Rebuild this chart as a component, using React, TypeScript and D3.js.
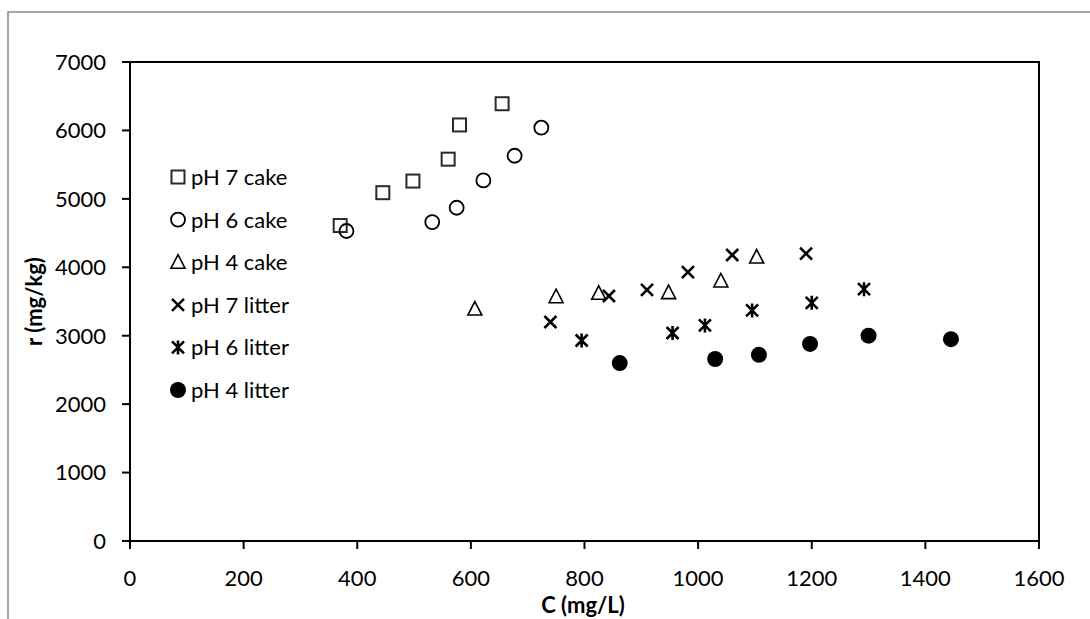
import React, { useEffect, useRef } from "react";
import * as d3 from "d3";

// Sorption data: concentration C (mg/L) vs. sorbed amount r (mg/kg)
const ph7CakeC = [370, 445, 498, 560, 580, 655];
const ph7CakeR = [4610, 5090, 5260, 5580, 6080, 6390];
const ph6CakeC = [381, 532, 575, 622, 677, 724];
const ph6CakeR = [4530, 4660, 4870, 5270, 5630, 6040];
const ph4CakeC = [607, 750, 825, 948, 1040, 1103];
const ph4CakeR = [3390, 3570, 3620, 3630, 3800, 4150];
const ph7LitterC = [740, 843, 910, 982, 1060, 1190];
const ph7LitterR = [3200, 3580, 3670, 3930, 4180, 4200];
const ph6LitterC = [795, 955, 1012, 1095, 1200, 1292];
const ph6LitterR = [2930, 3040, 3150, 3370, 3480, 3680];
const ph4LitterC = [862, 1030, 1107, 1197, 1300, 1445];
const ph4LitterR = [2600, 2660, 2720, 2880, 3000, 2950];

const seriesNames = ["pH 7 cake", "pH 6 cake", "pH 4 cake", "pH 7 litter", "pH 6 litter", "pH 4 litter"];
const seriesShapes = ["square", "circle", "triangle", "cross", "asterisk", "dot"];
const seriesC = [ph7CakeC, ph6CakeC, ph4CakeC, ph7LitterC, ph6LitterC, ph4LitterC];
const seriesR = [ph7CakeR, ph6CakeR, ph4CakeR, ph7LitterR, ph6LitterR, ph4LitterR];

const xTicks = [0, 200, 400, 600, 800, 1000, 1200, 1400, 1600];
const yTicks = [0, 1000, 2000, 3000, 4000, 5000, 6000, 7000];

const FONT = "Lato, 'Open Sans', sans-serif";
const FS = 22;

function drawMarker(g: any, shape: string, x: number, y: number) {
  const s = g.append("g").attr("transform", `translate(${x},${y})`);
  if (shape === "square") {
    s.append("rect").attr("x", -6.5).attr("y", -6.5).attr("width", 13).attr("height", 13)
      .attr("fill", "none").attr("stroke", "#2a2a2a").attr("stroke-width", 2);
  } else if (shape === "circle") {
    s.append("circle").attr("r", 7).attr("fill", "none").attr("stroke", "#000").attr("stroke-width", 1.8);
  } else if (shape === "triangle") {
    s.append("path").attr("d", "M0,-7.5L7,6L-7,6Z").attr("fill", "none").attr("stroke", "#000").attr("stroke-width", 1.6);
  } else if (shape === "cross") {
    s.append("path").attr("d", "M-6,-6L6,6M-6,6L6,-6").attr("fill", "none").attr("stroke", "#000").attr("stroke-width", 2.6);
  } else if (shape === "asterisk") {
    s.append("path").attr("d", "M-6,-6L6,6M-6,6L6,-6M0,-7L0,7").attr("fill", "none").attr("stroke", "#000").attr("stroke-width", 2.6);
  } else {
    s.append("circle").attr("r", 8).attr("fill", "#000");
  }
}

export default function App() {
  const ref = useRef<SVGSVGElement | null>(null);

  useEffect(() => {
    const svg = d3.select(ref.current);
    svg.selectAll("*").remove();

    const left = 130, right = 1039, top = 62, bottom = 541;
    const x = d3.scaleLinear().domain([0, 1600]).range([left, right]);
    const y = d3.scaleLinear().domain([0, 7000]).range([bottom, top]);

    // outer chart frame
    svg.append("path").attr("d", "M8,619L8,12L1090,12").attr("fill", "none").attr("stroke", "#8c8c8c").attr("stroke-width", 1.6);

    // plot frame
    svg.append("rect").attr("x", left).attr("y", top).attr("width", right - left).attr("height", bottom - top)
      .attr("fill", "none").attr("stroke", "#000").attr("stroke-width", 2);

    // y ticks and labels
    const yg = svg.append("g");
    yTicks.forEach((t) => {
      yg.append("line").attr("x1", left - 8).attr("x2", left).attr("y1", y(t)).attr("y2", y(t))
        .attr("stroke", "#000").attr("stroke-width", 2);
      yg.append("text").attr("x", 106).attr("y", y(t)).attr("dy", "0.36em").attr("text-anchor", "end")
        .attr("font-family", FONT).attr("font-size", FS).attr("fill", "#000").text(String(t));
    });

    // x ticks and labels
    const xg = svg.append("g");
    xTicks.forEach((t) => {
      xg.append("line").attr("x1", x(t)).attr("x2", x(t)).attr("y1", bottom).attr("y2", bottom + 8)
        .attr("stroke", "#000").attr("stroke-width", 2);
      xg.append("text").attr("x", x(t)).attr("y", 586).attr("text-anchor", "middle")
        .attr("font-family", FONT).attr("font-size", FS).attr("fill", "#000").text(String(t));
    });

    // axis titles
    svg.append("text").attr("x", 583).attr("y", 613).attr("text-anchor", "middle")
      .attr("font-family", FONT).attr("font-size", FS).attr("font-weight", "bold").text("C (mg/L)");
    svg.append("text").attr("transform", `translate(42,${(top + bottom) / 2}) rotate(-90)`).attr("text-anchor", "middle")
      .attr("font-family", FONT).attr("font-size", FS).attr("font-weight", "bold").text("r (mg/kg)");

    // data points
    const pg = svg.append("g");
    seriesC.forEach((cs, i) => {
      cs.forEach((c, j) => drawMarker(pg, seriesShapes[i], x(c), y(seriesR[i][j])));
    });

    // legend
    const lg = svg.append("g");
    seriesNames.forEach((name, i) => {
      const ly = 177 + i * 42.6;
      drawMarker(lg, seriesShapes[i], 178, ly);
      lg.append("text").attr("x", 191).attr("y", ly).attr("dy", "0.36em")
        .attr("font-family", FONT).attr("font-size", FS).attr("fill", "#000").text(name);
    });
  }, []);

  return (
    <div style={{ position: "fixed", left: 0, top: 0, width: 1090, height: 619, background: "#fff" }}>
      <svg ref={ref} width={1090} height={619} />
    </div>
  );
}
